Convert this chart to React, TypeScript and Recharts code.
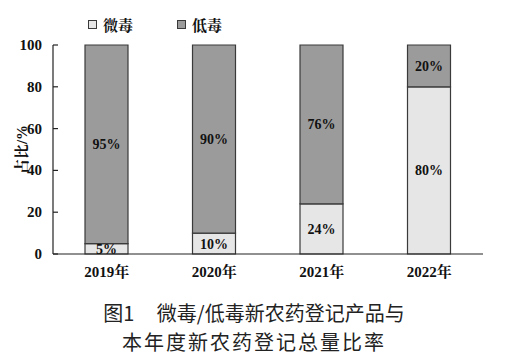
import {Bar, BarChart, LabelList, XAxis, YAxis} from "recharts";

const years = ["2019年", "2020年", "2021年", "2022年"];
const microToxic = [5, 10, 24, 80];
const lowToxic = [95, 90, 76, 20];
const yTicks = [0, 20, 40, 60, 80, 100];

const data = years.map((year, i) => ({year, micro: microToxic[i], low: lowToxic[i]}));

const serif = "'Liberation Serif', 'DejaVu Serif', 'Noto Serif CJK SC', serif";
const LIGHT = "#e6e6e6";
const DARK = "#9b9b9b";
const EDGE = "#3a3a3a";

const YTick = (props: any) => {
    const {x, y, payload} = props;
    return (
        <g>
            <line x1={x + 10} x2={x + 15} y1={y} y2={y} stroke="#222" strokeWidth={1.2}/>
            <text x={x - 1} y={y} dy={5} textAnchor="end" fontFamily={serif} fontWeight="bold" fontSize={15} fill="#111">
                {payload.value}
            </text>
        </g>
    );
};

const LegendBox = () => (
    <div style={{position: "absolute", left: 88, top: 14, display: "flex", fontFamily: serif, fontWeight: "bold",
        fontSize: 15, color: "#111"}}>
        <span style={{display: "flex", alignItems: "center", marginRight: 44}}>
            <span style={{width: 7, height: 7, background: LIGHT, border: `1px solid ${EDGE}`, marginRight: 6}}/>
            微毒
        </span>
        <span style={{display: "flex", alignItems: "center"}}>
            <span style={{width: 7, height: 7, background: DARK, border: `1px solid ${EDGE}`, marginRight: 6}}/>
            低毒
        </span>
    </div>
);

const labelStyle = {fontFamily: serif, fontWeight: "bold", fontSize: 14, fill: "#111"};

const App = () => {
    return (
        <div style={{position: "absolute", left: 0, top: 0, width: 508, height: 362, background: "#fff"}}>
            <LegendBox/>
            <BarChart data={data} width={508} height={290} barSize={43}
                      margin={{top: 45, right: 25, bottom: 6, left: 8}}>
                <XAxis dataKey="year" height={30} tickLine={false} axisLine={{stroke: "#222", strokeWidth: 1.2}}
                       tick={{fontFamily: serif, fontWeight: "bold", fontSize: 15, fill: "#111"}} tickMargin={6}/>
                <YAxis width={45} domain={[0, 100]} ticks={yTicks} interval={0} tickSize={0} tickMargin={10}
                       tickLine={false} axisLine={{stroke: "#222", strokeWidth: 1.2}} tick={<YTick/>}
                       label={{value: "占比/%", angle: -90, position: "insideLeft", offset: 14,
                           style: {fontFamily: serif, fontWeight: "bold", fontSize: 15, fill: "#111", textAnchor: "middle"}}}/>
                <Bar dataKey="micro" stackId="a" fill={LIGHT} stroke={EDGE} strokeWidth={1.2} isAnimationActive={false}>
                    <LabelList dataKey="micro" position="center" formatter={(v: any) => `${v}%`} style={labelStyle}/>
                </Bar>
                <Bar dataKey="low" stackId="a" fill={DARK} stroke={EDGE} strokeWidth={1.2} isAnimationActive={false}>
                    <LabelList dataKey="low" position="center" formatter={(v: any) => `${v}%`} style={labelStyle}/>
                </Bar>
            </BarChart>
            <div style={{fontFamily: "'Noto Sans CJK SC', sans-serif", fontSize: 20, color: "#222", lineHeight: "29px",
                textAlign: "center", marginTop: 8}}>
                <div>图1&nbsp;&nbsp;&nbsp;&nbsp;&nbsp;微毒/低毒新农药登记产品与</div>
                <div style={{letterSpacing: 2}}>本年度新农药登记总量比率</div>
            </div>
        </div>
    );
};

export default App;
